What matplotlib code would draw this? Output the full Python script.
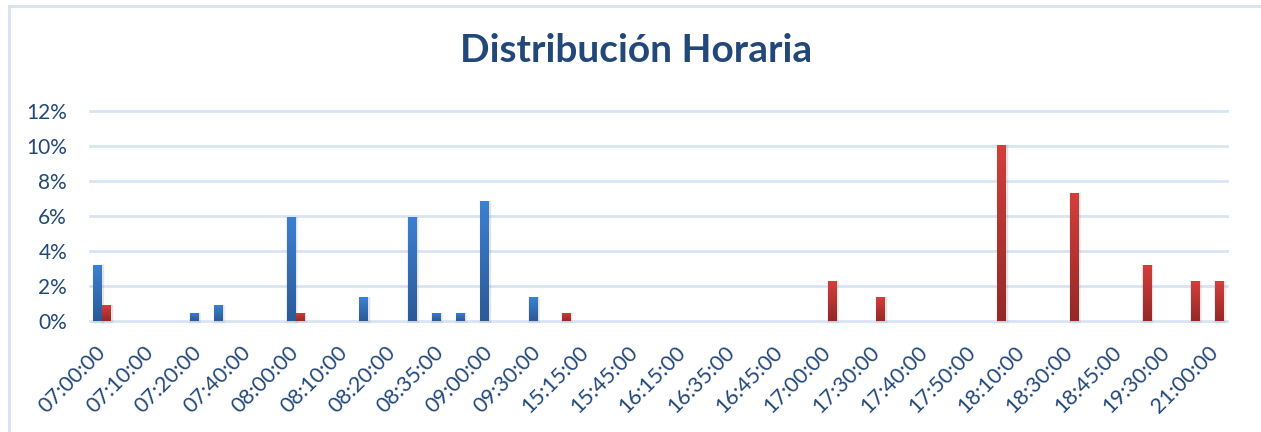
import numpy as np
import matplotlib
matplotlib.use("Agg")
import matplotlib.pyplot as plt
from matplotlib.colors import LinearSegmentedColormap
from matplotlib.lines import Line2D

# ---------------- data ----------------
categories = ["07:00:00", "07:05:00", "07:10:00", "07:15:00", "07:20:00", "07:30:00",
              "07:40:00", "07:50:00", "08:00:00", "08:05:00", "08:10:00", "08:15:00",
              "08:20:00", "08:30:00", "08:35:00", "08:45:00", "09:00:00", "09:15:00",
              "09:30:00", "12:00:00", "15:15:00", "15:30:00", "15:45:00", "16:00:00",
              "16:15:00", "16:30:00", "16:35:00", "16:40:00", "16:45:00", "16:50:00",
              "17:00:00", "17:15:00", "17:30:00", "17:35:00", "17:40:00", "17:45:00",
              "17:50:00", "18:00:00", "18:10:00", "18:15:00", "18:30:00", "18:40:00",
              "18:45:00", "19:00:00", "19:30:00", "20:00:00", "21:00:00"]

entrada = [3.20, 0, 0, 0, 0.46, 0.91, 0, 0, 5.94, 0, 0, 1.37, 0, 5.94, 0.46, 0.46,
           6.85, 0, 1.37, 0, 0, 0, 0, 0, 0, 0, 0, 0, 0, 0, 0, 0, 0, 0, 0, 0, 0, 0,
           0, 0, 0, 0, 0, 0, 0, 0, 0]
salida = [0.91, 0, 0, 0, 0, 0, 0, 0, 0.46, 0, 0, 0, 0, 0, 0, 0, 0, 0, 0, 0.46,
          0, 0, 0, 0, 0, 0, 0, 0, 0, 0, 2.28, 0, 1.37, 0, 0, 0, 0, 10.05, 0, 0,
          7.31, 0, 0, 3.20, 0, 2.28, 2.28]

yticks = [0, 2, 4, 6, 8, 10, 12]
ytick_labels = ["0%", "2%", "4%", "6%", "8%", "10%", "12%"]
title = "Distribución Horaria"

# ---------------- style ----------------
W, H = 1261, 432
DPI = 100
text_color = "#22487A"
grid_color = "#D9E4F2"
font = ["Lato", "DejaVu Sans"]

fig = plt.figure(figsize=(W / DPI, H / DPI), dpi=DPI)
fig.patch.set_facecolor("white")

def fx(px):
    return px / W

def fy(py):
    return 1 - py / H

ax = fig.add_axes([fx(90), fy(320.7), fx(1227) - fx(90), fy(110.7) - fy(320.7)])
ax.set_facecolor("none")

x = np.arange(len(categories))
width = 0.35
off = 0.186

blue_cmap = LinearSegmentedColormap.from_list("b", ["#3C80D2", "#2B5A97"])
red_cmap = LinearSegmentedColormap.from_list("r", ["#D33F3B", "#932927"])

ax.set_xlim(-0.5, len(categories) - 0.5)
ax.set_ylim(0, 12)

# gridlines
for yv in yticks:
    ax.axhline(yv, color=grid_color, lw=2.0, zorder=0.5, clip_on=False)

px_x = (len(categories)) / (1227 - 90)   # data units per pixel (x)
px_y = 12 / 210.0                        # data units per pixel (y)

def draw_series(vals, pos, cmap):
    bars = ax.bar(pos, vals, width=width, color=cmap(0.5), zorder=3, linewidth=0)
    grad = np.linspace(0, 1, 256).reshape(-1, 1)
    for b, v in zip(bars, vals):
        if v <= 0:
            b.set_visible(False)
            continue
        x0, w_ = b.get_x(), b.get_width()
        # soft shadow
        for k, a in ((3.5, 0.05), (2.5, 0.07), (1.5, 0.09)):
            sh = plt.Rectangle((x0 - k * px_x * 0.6 + 0.8 * px_x, -k * px_y * 0.8),
                               w_ + 2 * k * px_x * 0.6, v + k * px_y * 0.8,
                               facecolor="#808080", alpha=a, lw=0, zorder=2, clip_on=False)
            ax.add_patch(sh)
        im = ax.imshow(grad, cmap=cmap, aspect="auto", origin="upper",
                       extent=(x0, x0 + w_, 0, v), zorder=3.5, interpolation="bilinear")
        im.set_clip_path(b)
    return bars

draw_series(entrada, x - off, blue_cmap)
draw_series(salida, x + off, red_cmap)

ax.set_xlim(-0.5, len(categories) - 0.5)
ax.set_ylim(0, 12)

for s in ax.spines.values():
    s.set_visible(False)

ax.set_yticks(yticks)
ax.set_yticklabels(ytick_labels, fontsize=15, color=text_color, family=font)
ax.set_xticks(x[::2])
ax.set_xticklabels(categories[::2], rotation=45, ha="right", va="center",
                   rotation_mode="anchor", fontsize=15.5, color=text_color, family=font)
ax.tick_params(axis="y", length=0, pad=16.5)
ax.tick_params(axis="x", length=0, pad=20.5)

fig.text(fx(636), fy(62.5), title, ha="center", va="baseline", fontsize=28,
         fontweight="bold", color=text_color, family=font)

# chart border (top and left visible)
border = "#D6E2F0"
fig.add_artist(Line2D([fx(9), 1], [fy(5.5), fy(5.5)], color=border, lw=2.0))
fig.add_artist(Line2D([fx(9), fx(9)], [fy(5.5), 0], color=border, lw=2.0))

fig.savefig("out.png", dpi=DPI, facecolor="white")
